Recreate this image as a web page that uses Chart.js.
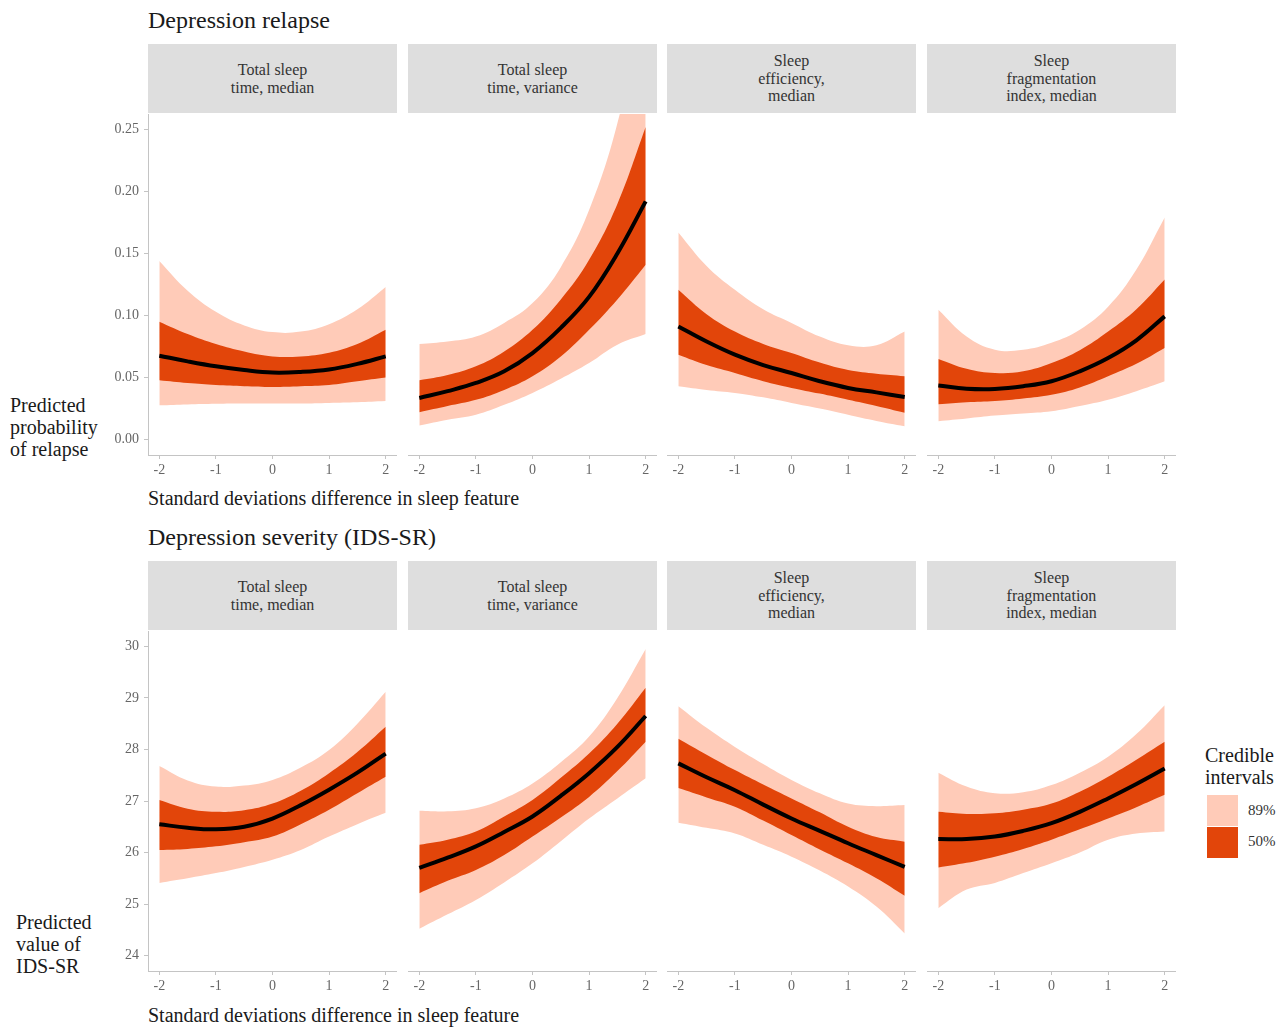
<!DOCTYPE html>
<html>
<head>
<meta charset="utf-8">
<script src="https://cdn.jsdelivr.net/npm/chart.js@4.4.1/dist/chart.umd.min.js"></script>
<style>
  body { margin: 0; background: #fff; width: 1285px; height: 1027px; position: relative; overflow: hidden;
         font-family: "Liberation Serif", "DejaVu Serif", serif; color: #1a1a1a; }
  .abs { position: absolute; white-space: nowrap; }
  .title { font-size: 24px; line-height: 28px; }
  .axtitle { font-size: 20px; line-height: 22px; }
  .strip { position: absolute; background: #dedede; display: flex; align-items: center; justify-content: center;
           text-align: center; font-size: 16px; line-height: 17.5px; color: #333; }
  .panel { position: absolute; }
  .key { position: absolute; width: 31px; height: 31px; }
  .keylab { position: absolute; font-size: 15px; color: #333; }
</style>
</head>
<body>

<div class="abs title" style="left:148px; top:6px;">Depression relapse</div>
<div class="abs title" style="left:148px; top:523px;">Depression severity (IDS-SR)</div>

<div class="abs axtitle" style="left:10px; top:394px;">Predicted<br>probability<br>of relapse</div>
<div class="abs axtitle" style="left:16px; top:911px;">Predicted<br>value of<br>IDS-SR</div>

<div class="abs axtitle" style="left:148px; top:487px;">Standard deviations difference in sleep feature</div>
<div class="abs axtitle" style="left:148px; top:1004px;">Standard deviations difference in sleep feature</div>

<div class="abs axtitle" style="left:1205px; top:744px;">Credible<br>intervals</div>
<div class="key" id="key89" style="left:1207px; top:795px;"></div>
<div class="key" id="key50" style="left:1207px; top:827px;"></div>
<div class="keylab" style="left:1248px; top:802px;">89%</div>
<div class="keylab" style="left:1248px; top:833px;">50%</div>

<div id="root"></div>

<script>
// ── Data ──────────────────────────────────────────────────────────────────────
const xs = [-2, -1.5, -1, -0.5, 0, 0.5, 1, 1.5, 2];
const xTicks = [-2, -1, 0, 1, 2];
const relapseTicks = [0, 0.05, 0.10, 0.15, 0.20, 0.25];
const severityTicks = [24, 25, 26, 27, 28, 29, 30];

const facetLabels = [
    ['Total sleep', 'time, median'],
    ['Total sleep', 'time, variance'],
    ['Sleep', 'efficiency,', 'median'],
    ['Sleep', 'fragmentation', 'index, median'],
];

// Depression relapse: predicted probability
const relTstMed_est  = [0.0676, 0.063, 0.059, 0.056, 0.054, 0.0545, 0.0565, 0.061, 0.067];
const relTstMed_lo50 = [0.0477, 0.0455, 0.044, 0.043, 0.0424, 0.043, 0.044, 0.047, 0.050];
const relTstMed_hi50 = [0.095, 0.085, 0.077, 0.071, 0.067, 0.067, 0.070, 0.077, 0.0885];
const relTstMed_lo89 = [0.0276, 0.0283, 0.0288, 0.029, 0.029, 0.029, 0.0295, 0.030, 0.031];
const relTstMed_hi89 = [0.144, 0.120, 0.103, 0.092, 0.0866, 0.087, 0.093, 0.105, 0.123];

const relTstVar_est  = [0.0335, 0.039, 0.0456, 0.055, 0.0697, 0.090, 0.115, 0.150, 0.192];
const relTstVar_lo50 = [0.022, 0.027, 0.032, 0.040, 0.051, 0.067, 0.0885, 0.113, 0.141];
const relTstVar_hi50 = [0.0477, 0.052, 0.059, 0.071, 0.0885, 0.113, 0.145, 0.19, 0.252];
const relTstVar_lo89 = [0.0113, 0.016, 0.020, 0.028, 0.0376, 0.049, 0.0617, 0.0765, 0.085];
const relTstVar_hi89 = [0.077, 0.079, 0.083, 0.094, 0.110, 0.139, 0.185, 0.255, 0.36];

const relEff_est  = [0.0912, 0.079, 0.0684, 0.060, 0.0536, 0.047, 0.0416, 0.038, 0.0343];
const relEff_lo50 = [0.0684, 0.060, 0.0536, 0.047, 0.0416, 0.037, 0.032, 0.027, 0.0215];
const relEff_hi50 = [0.1207, 0.101, 0.087, 0.077, 0.0697, 0.062, 0.056, 0.053, 0.051];
const relEff_lo89 = [0.043, 0.040, 0.0376, 0.034, 0.0295, 0.025, 0.020, 0.015, 0.0107];
const relEff_hi89 = [0.167, 0.140, 0.1207, 0.105, 0.094, 0.083, 0.076, 0.076, 0.087];

const relFrag_est  = [0.0435, 0.041, 0.0408, 0.043, 0.047, 0.055, 0.0657, 0.080, 0.0993];
const relFrag_lo50 = [0.0284, 0.030, 0.031, 0.033, 0.036, 0.042, 0.051, 0.061, 0.0738];
const relFrag_hi50 = [0.065, 0.057, 0.0536, 0.055, 0.0617, 0.072, 0.087, 0.105, 0.129];
const relFrag_lo89 = [0.0148, 0.017, 0.0193, 0.021, 0.0228, 0.027, 0.032, 0.039, 0.047];
const relFrag_hi89 = [0.1046, 0.083, 0.0724, 0.0724, 0.078, 0.0885, 0.107, 0.137, 0.179];

// Depression severity: predicted IDS-SR
const sevTstMed_est  = [26.55, 26.48, 26.45, 26.5, 26.66, 26.92, 27.22, 27.55, 27.92];
const sevTstMed_lo50 = [26.05, 26.07, 26.12, 26.2, 26.31, 26.55, 26.83, 27.15, 27.47];
const sevTstMed_hi50 = [27.02, 26.85, 26.79, 26.82, 26.95, 27.2, 27.54, 27.95, 28.44];
const sevTstMed_lo89 = [25.41, 25.5, 25.6, 25.72, 25.86, 26.05, 26.31, 26.55, 26.77];
const sevTstMed_hi89 = [27.68, 27.4, 27.28, 27.3, 27.41, 27.65, 27.99, 28.5, 29.12];

const sevTstVar_est  = [25.70, 25.9, 26.12, 26.4, 26.7, 27.1, 27.54, 28.05, 28.65];
const sevTstVar_lo50 = [25.21, 25.45, 25.66, 25.95, 26.31, 26.68, 27.08, 27.58, 28.15];
const sevTstVar_hi50 = [26.15, 26.25, 26.41, 26.7, 27.02, 27.45, 27.92, 28.5, 29.2];
const sevTstVar_lo89 = [24.52, 24.8, 25.08, 25.42, 25.79, 26.22, 26.66, 27.05, 27.44];
const sevTstVar_hi89 = [26.81, 26.8, 26.86, 27.05, 27.34, 27.75, 28.25, 29.0, 29.95];

const sevEff_est  = [27.73, 27.46, 27.21, 26.93, 26.66, 26.42, 26.18, 25.95, 25.72];
const sevEff_lo50 = [27.25, 27.07, 26.89, 26.62, 26.34, 26.06, 25.79, 25.5, 25.16];
const sevEff_hi50 = [28.21, 27.9, 27.6, 27.32, 27.05, 26.78, 26.5, 26.3, 26.21];
const sevEff_lo89 = [26.58, 26.48, 26.37, 26.15, 25.92, 25.65, 25.34, 24.95, 24.43];
const sevEff_hi89 = [28.84, 28.42, 28.05, 27.72, 27.41, 27.15, 26.95, 26.9, 26.92];

const sevFrag_est  = [26.26, 26.26, 26.31, 26.42, 26.57, 26.79, 27.05, 27.33, 27.63];
const sevFrag_lo50 = [25.71, 25.8, 25.92, 26.07, 26.25, 26.45, 26.66, 26.88, 27.12];
const sevFrag_hi50 = [26.79, 26.75, 26.76, 26.83, 26.95, 27.18, 27.47, 27.8, 28.15];
const sevFrag_lo89 = [24.92, 25.28, 25.41, 25.6, 25.79, 26.0, 26.25, 26.37, 26.41];
const sevFrag_hi89 = [27.55, 27.28, 27.15, 27.17, 27.31, 27.55, 27.86, 28.3, 28.86];

// ── Style ─────────────────────────────────────────────────────────────────────
const COL89 = '#ffcbb8';
const COL50 = '#e2450a';
const AXIS  = '#c4c4c4';
const TICKC = '#666666';
const FONT  = '"Liberation Serif", "DejaVu Serif", serif';

document.getElementById('key89').style.background = COL89;
document.getElementById('key50').style.background = COL50;

// panel geometry (left edge of each plot area)
const panelLefts = [148, 408, 667, 927];
const panelW = 249;
const rows = [
    { stripTop: 44, plotTop: 114, plotH: 341, min: -0.0125, max: 0.2625, ticks: relapseTicks, fmt: v => v.toFixed(2),
      series: [
        [relTstMed_est, relTstMed_lo50, relTstMed_hi50, relTstMed_lo89, relTstMed_hi89],
        [relTstVar_est, relTstVar_lo50, relTstVar_hi50, relTstVar_lo89, relTstVar_hi89],
        [relEff_est, relEff_lo50, relEff_hi50, relEff_lo89, relEff_hi89],
        [relFrag_est, relFrag_lo50, relFrag_hi50, relFrag_lo89, relFrag_hi89],
      ] },
    { stripTop: 561, plotTop: 631, plotH: 340, min: 23.7, max: 30.3, ticks: severityTicks, fmt: v => String(v),
      series: [
        [sevTstMed_est, sevTstMed_lo50, sevTstMed_hi50, sevTstMed_lo89, sevTstMed_hi89],
        [sevTstVar_est, sevTstVar_lo50, sevTstVar_hi50, sevTstVar_lo89, sevTstVar_hi89],
        [sevEff_est, sevEff_lo50, sevEff_hi50, sevEff_lo89, sevEff_hi89],
        [sevFrag_est, sevFrag_lo50, sevFrag_hi50, sevFrag_lo89, sevFrag_hi89],
      ] },
];

const pts = (arr) => arr.map((v, i) => ({ x: xs[i], y: v }));
const Y_AXIS_W = 48;
const X_AXIS_H = 30;

function band(data, color, fill) {
    return { data: pts(data), borderWidth: 0, pointRadius: 0, backgroundColor: color, fill: fill };
}

// keep the plot area exactly where the box says: no label overhang padding
function noPad(s) {
    s.paddingTop = 0; s.paddingBottom = 0; s.paddingLeft = 0; s.paddingRight = 0;
}

function makePanel(row, col) {
    const root = document.getElementById('root');

    // facet strip
    const strip = document.createElement('div');
    strip.className = 'strip';
    Object.assign(strip.style, { left: panelLefts[col] + 'px', top: row.stripTop + 'px',
                                 width: panelW + 'px', height: '69px' });
    strip.innerHTML = facetLabels[col].join('<br>');
    root.appendChild(strip);

    const showY = col === 0;
    const yW = showY ? Y_AXIS_W : 0;
    const box = document.createElement('div');
    box.className = 'panel';
    Object.assign(box.style, { left: (panelLefts[col] - yW) + 'px', top: row.plotTop + 'px',
                               width: (panelW + yW) + 'px', height: (row.plotH + X_AXIS_H) + 'px' });
    const canvas = document.createElement('canvas');
    box.appendChild(canvas);
    root.appendChild(box);

    const [est, lo50, hi50, lo89, hi89] = row.series[col];

    new Chart(canvas, {
        type: 'line',
        data: {
            datasets: [
                { data: pts(est), borderColor: '#000', borderWidth: 4, pointRadius: 0, fill: false },
                band(hi50, COL50, '+1'),
                band(lo50, COL50, false),
                band(hi89, COL89, '+1'),
                band(lo89, COL89, false),
            ]
        },
        options: {
            responsive: true,
            maintainAspectRatio: false,
            animation: false,
            events: [],
            layout: { padding: 0 },
            elements: { line: { tension: 0.4, capBezierPoints: false } },
            plugins: { legend: { display: false }, tooltip: { enabled: false } },
            scales: {
                x: {
                    type: 'linear', min: -2.2, max: 2.2,
                    afterBuildTicks: (s) => { s.ticks = xTicks.map(v => ({ value: v })); },
                    afterFit: (s) => { s.height = X_AXIS_H; noPad(s); },
                    grid: { display: true, drawOnChartArea: false, drawTicks: true, tickLength: 4, color: AXIS },
                    border: { display: true, color: AXIS, width: 1 },
                    ticks: { color: TICKC, font: { family: FONT, size: 14 }, padding: 3, maxRotation: 0,
                             callback: (v) => String(v) },
                },
                y: {
                    type: 'linear', min: row.min, max: row.max,
                    display: showY,
                    afterBuildTicks: (s) => { s.ticks = row.ticks.map(v => ({ value: v })); },
                    afterFit: (s) => { s.width = yW; noPad(s); },
                    grid: { display: true, drawOnChartArea: false, drawTicks: true, tickLength: 4, color: AXIS },
                    border: { display: true, color: AXIS, width: 1 },
                    ticks: { color: TICKC, font: { family: FONT, size: 14 }, padding: 5,
                             callback: (v) => row.fmt(v) },
                }
            }
        }
    });
}

rows.forEach(row => [0, 1, 2, 3].forEach(col => makePanel(row, col)));
</script>
</body>
</html>
